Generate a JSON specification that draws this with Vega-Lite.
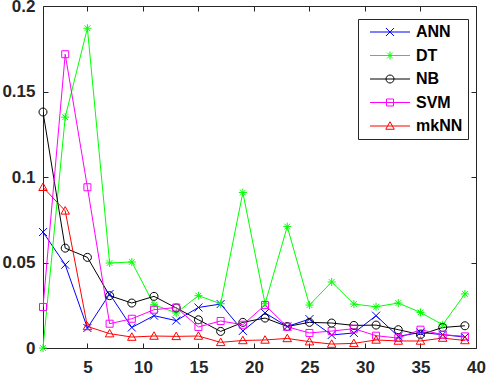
{
  "$schema": "https://vega.github.io/schema/vega-lite/v6.json",
  "width": 433,
  "height": 342,
  "autosize": {"type": "none"},
  "padding": {"left": 43, "top": 6, "right": 11, "bottom": 28},
  "background": "white",
  "config": {
    "view": {"stroke": "#262626", "strokeWidth": 1},
    "axis": {
      "labelFont": "Liberation Sans",
      "labelFontWeight": "bold",
      "labelFontSize": 17,
      "labelColor": "#262626",
      "tickColor": "#262626",
      "tickSize": -5,
      "tickWidth": 1,
      "domain": false,
      "grid": false,
      "title": null
    },
    "legend": {
      "orient": "none",
      "legendX": 315,
      "legendY": 13,
      "title": null,
      "labelFont": "Liberation Sans",
      "labelFontWeight": "bold",
      "labelFontSize": 16,
      "labelColor": "#000000",
      "symbolSize": 100,
      "symbolOffset": 19,
      "labelOffset": 18,
      "padding": 5,
      "rowPadding": 7.5,
      "symbolStrokeWidth": 1,
      "cornerRadius": 0
    }
  },
  "data": {
    "values": [
      {"x": 1, "ANN": 0.0678, "DT": 0, "NB": 0.138, "SVM": 0.024, "mkNN": 0.094},
      {"x": 3, "ANN": 0.0487, "DT": 0.135, "NB": 0.0584, "SVM": 0.1718, "mkNN": 0.0802},
      {"x": 5, "ANN": 0.0117, "DT": 0.187, "NB": 0.053, "SVM": 0.094, "mkNN": 0.0126},
      {"x": 7, "ANN": 0.0316, "DT": 0.0497, "NB": 0.0306, "SVM": 0.0142, "mkNN": 0.0084},
      {"x": 9, "ANN": 0.012, "DT": 0.0503, "NB": 0.0263, "SVM": 0.0171, "mkNN": 0.0064},
      {"x": 11, "ANN": 0.0189, "DT": 0.0253, "NB": 0.0302, "SVM": 0.0224, "mkNN": 0.007},
      {"x": 13, "ANN": 0.016, "DT": 0.0205, "NB": 0.0234, "SVM": 0.0237, "mkNN": 0.0068},
      {"x": 15, "ANN": 0.0237, "DT": 0.0306, "NB": 0.0165, "SVM": 0.0123, "mkNN": 0.007},
      {"x": 17, "ANN": 0.0257, "DT": 0.0259, "NB": 0.0097, "SVM": 0.0158, "mkNN": 0.0033},
      {"x": 19, "ANN": 0.01, "DT": 0.0909, "NB": 0.015, "SVM": 0.0136, "mkNN": 0.0044},
      {"x": 21, "ANN": 0.0205, "DT": 0.0259, "NB": 0.0175, "SVM": 0.0251, "mkNN": 0.0047},
      {"x": 23, "ANN": 0.0126, "DT": 0.071, "NB": 0.0126, "SVM": 0.0124, "mkNN": 0.0056},
      {"x": 25, "ANN": 0.0169, "DT": 0.0251, "NB": 0.015, "SVM": 0.0088, "mkNN": 0.0037},
      {"x": 27, "ANN": 0.0076, "DT": 0.0386, "NB": 0.0146, "SVM": 0.0099, "mkNN": 0.0023},
      {"x": 29, "ANN": 0.0088, "DT": 0.0257, "NB": 0.0132, "SVM": 0.0113, "mkNN": 0.0027},
      {"x": 31, "ANN": 0.0189, "DT": 0.0241, "NB": 0.0134, "SVM": 0.0072, "mkNN": 0.0047},
      {"x": 33, "ANN": 0.0068, "DT": 0.0263, "NB": 0.0107, "SVM": 0.0058, "mkNN": 0.0041},
      {"x": 35, "ANN": 0.0091, "DT": 0.0208, "NB": 0.0078, "SVM": 0.0107, "mkNN": 0.0041},
      {"x": 37, "ANN": 0.0078, "DT": 0.0136, "NB": 0.012, "SVM": 0.0078, "mkNN": 0.0058},
      {"x": 39, "ANN": 0.0064, "DT": 0.0316, "NB": 0.013, "SVM": 0.0068, "mkNN": 0.0044}
    ]
  },
  "transform": [
    {"fold": ["ANN", "DT", "NB", "SVM", "mkNN"], "as": ["model", "err"]}
  ],
  "layer": [
    {
      "mark": {"type": "line", "strokeWidth": 1, "clip": true},
      "encoding": {
        "x": {
          "field": "x", "type": "quantitative",
          "scale": {"domain": [1, 40], "nice": false, "zero": false},
          "axis": {"orient": "bottom", "values": [5, 10, 15, 20, 25, 30, 35, 40], "labelPadding": 16, "labelFlush": false}
        },
        "y": {
          "field": "err", "type": "quantitative",
          "scale": {"domain": [0, 0.2], "nice": false},
          "axis": {"orient": "left", "values": [0, 0.05, 0.1, 0.15, 0.2], "format": "~g", "labelPadding": 13, "labelFlush": false}
        },
        "color": {
          "field": "model", "type": "nominal",
          "scale": {
            "domain": ["ANN", "DT", "NB", "SVM", "mkNN"],
            "range": ["#0000FF", "#00FF00", "#000000", "#FF00FF", "#FF0000"]
          },
          "legend": {
            "symbolType": "M-4,0H4",
            "strokeColor": "#262626",
            "fillColor": "white"
          }
        }
      }
    },
    {
      "mark": {"type": "point", "filled": false, "strokeWidth": 1, "size": 100, "opacity": 1},
      "encoding": {
        "x": {"field": "x", "type": "quantitative", "axis": null},
        "y": {"field": "err", "type": "quantitative", "axis": null},
        "color": {
          "field": "model", "type": "nominal",
          "legend": {
            "labelOpacity": 0,
            "symbolFillColor": "transparent"
          }
        },
        "shape": {
          "field": "model", "type": "nominal",
          "scale": {
            "domain": ["ANN", "DT", "NB", "SVM", "mkNN"],
            "range": [
              "M-0.8,-0.8L0.8,0.8M-0.8,0.8L0.8,-0.8",
              "M-0.8,0H0.8M0,-0.8V0.8M-0.57,-0.57L0.57,0.57M-0.57,0.57L0.57,-0.57",
              "M0.8,0A0.8,0.8,0,1,1,-0.8,0A0.8,0.8,0,1,1,0.8,0Z",
              "M-0.7,-0.7H0.7V0.7H-0.7Z",
              "M0,-0.85L0.85,0.65L-0.85,0.65Z"
            ]
          },
          "legend": {
            "labelOpacity": 0,
            "symbolFillColor": "transparent"
          }
        }
      }
    },
    {
      "mark": {"type": "point", "opacity": 0, "size": 1},
      "encoding": {
        "x": {
          "field": "x", "type": "quantitative",
          "axis": {"orient": "top", "values": [5, 10, 15, 20, 25, 30, 35, 40], "labels": false}
        },
        "y": {
          "field": "err", "type": "quantitative",
          "axis": {"orient": "right", "values": [0, 0.05, 0.1, 0.15, 0.2], "labels": false}
        }
      }
    }
  ],
  "resolve": {
    "axis": {"x": "independent", "y": "independent"},
    "legend": {"color": "independent", "shape": "independent"}
  }
}
